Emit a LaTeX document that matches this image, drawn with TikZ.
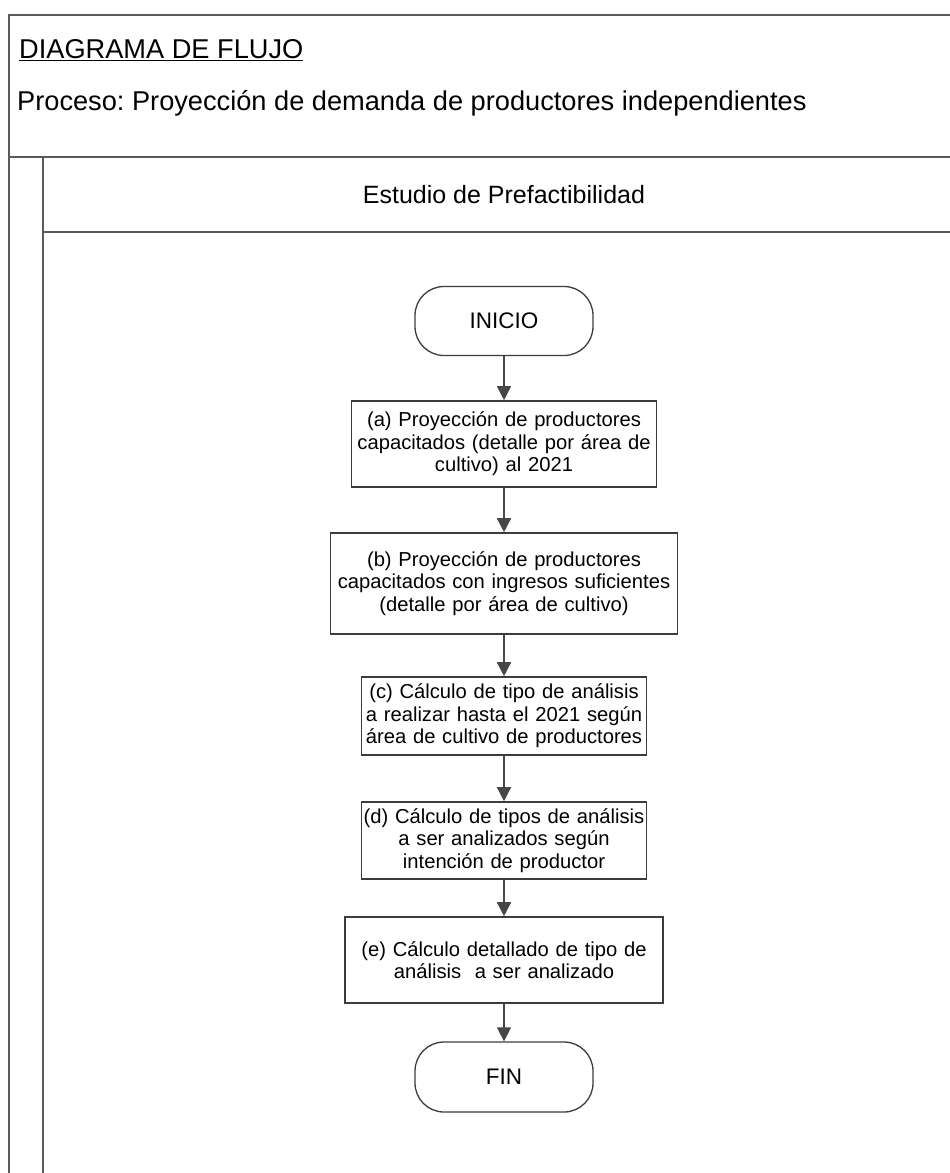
\documentclass[tikz,border=0pt]{standalone}
\usepackage{fontspec}
\setmainfont{Liberation Sans}
\usetikzlibrary{arrows.meta}
\definecolor{frameline}{HTML}{5A5A5A}
\definecolor{boxline}{HTML}{3C3C3C}
\definecolor{arrowcol}{HTML}{474747}
\frenchspacing
\begin{document}
\begin{tikzpicture}[x=1pt,y=-1pt,
  lane/.style={draw=frameline,line width=2pt},
  process/.style={draw=boxline,line width=1.6pt,rectangle,align=center,
    inner sep=0pt,font=\fontsize{20.2}{22.5}\selectfont},
  terminal/.style={draw=boxline,line width=1.3pt,rectangle,rounded corners=29pt,
    minimum width=178pt,minimum height=69pt,inner sep=0pt,
    font=\fontsize{22.5}{25}\selectfont},
  flow/.style={draw=arrowcol,line width=1.5pt,
    -{Triangle[width=14pt,length=14pt,fill=arrowcol]}}]
\useasboundingbox (0,0) rectangle (950,1173);
\fill[white] (0,0) rectangle (950,1173);

% frame and swimlane
\draw[lane] (950,15) -- (9,15) -- (9,1175);
\draw[lane] (9,157) -- (950,157);
\draw[lane] (43,157) -- (43,1175);
\draw[lane] (43,232) -- (950,232);

% header texts
\node[anchor=west,inner sep=0pt,font=\fontsize{27.2}{30}\selectfont] (titulo) at (19,50)
  {\underline{DIAGRAMA DE FLUJO}};
\node[anchor=west,inner sep=0pt,font=\fontsize{27.2}{30}\selectfont] (proceso) at (17,103)
  {Proceso: Proyección de demanda de productores independientes};
\node[inner sep=0pt,font=\fontsize{25}{28}\selectfont] (carril) at (504,195)
  {Estudio de Prefactibilidad};

% flowchart
\node[terminal] (inicio) at (504,321) {INICIO};
\node[process,text width=299pt,minimum width=305pt,minimum height=86pt] (pa) at (504,444)
  {(a) Proyección de productores\\capacitados (detalle por área de\\cultivo) al 2021};
\node[process,text width=343pt,minimum width=347pt,minimum height=101pt] (pb) at (504,583.5)
  {(b) Proyección de productores\\capacitados con ingresos suficientes\\(detalle por área de cultivo)};
\node[process,text width=285pt,minimum width=285pt,minimum height=78pt] (pc) at (504,716)
  { (c) Cálculo de tipo de análisis\\a realizar hasta el 2021 según\\área de cultivo de productores};
\node[process,text width=285pt,minimum width=285pt,minimum height=77pt] (pd) at (504,840.5)
  {(d) Cálculo de tipos de análisis\\a ser analizados según\\intención de productor};
\node[process,text width=312pt,minimum width=318pt,minimum height=86pt] (pe) at (504,960)
  {(e) Cálculo detallado de tipo de\\análisis\ \ a ser analizado};
\node[terminal,minimum height=70pt] (fin) at (504,1077) {FIN};

\draw[flow] (inicio) -- (pa);
\draw[flow] (pa) -- (pb);
\draw[flow] (pb) -- (pc);
\draw[flow] (pc) -- (pd);
\draw[flow] (pd) -- (pe);
\draw[flow] (pe) -- (fin);
\end{tikzpicture}
\end{document}
